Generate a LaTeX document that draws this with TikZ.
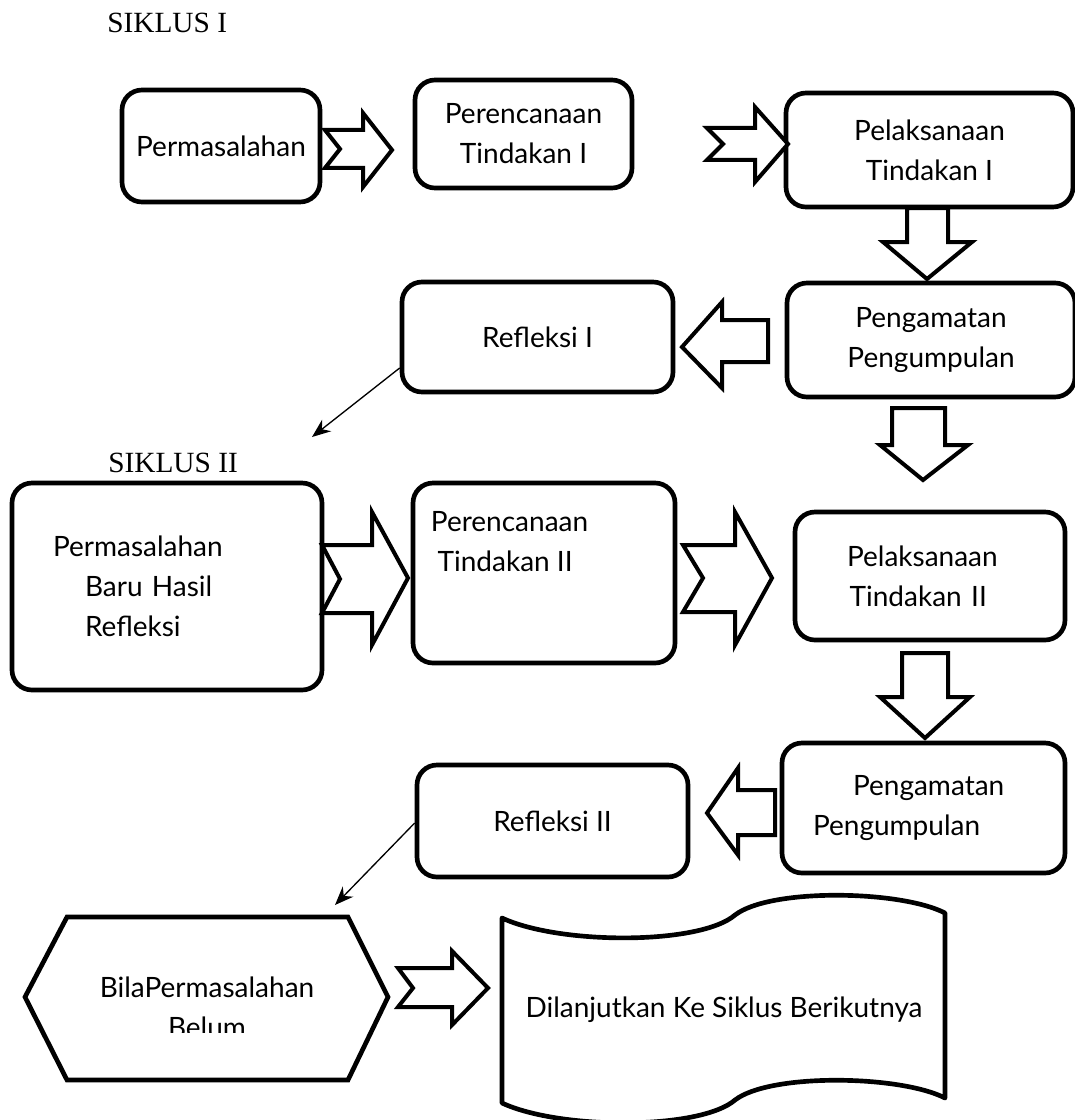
\documentclass[tikz,border=0pt]{standalone}
\usepackage{fontspec}
\setmainfont{Lato}
\newfontfamily\siklusfont{Liberation Serif}
\usetikzlibrary{arrows.meta,calc}

\tikzset{
  box/.style={draw, line width=3.5pt, rounded corners=15pt, align=center,
    font=\fontsize{21}{30}\selectfont},
  lbox/.style 2 args={box, align=left, inner xsep=#1, text width=#2},
  txt/.style={align=center, inner sep=0pt, font=\fontsize{21}{30}\selectfont},
  blockarrow/.style={draw, line width=3pt, fill=white, line join=miter},
  thinarrow/.style={-{Stealth[length=14pt,width=11pt]}, line width=1pt},
  siklus/.style={font=\siklusfont\fontsize{22}{26}\selectfont, inner sep=0pt, anchor=base west}
}

\begin{document}
\begin{tikzpicture}[x=0.75pt, y=-0.75pt]
    \useasboundingbox (0,0) rectangle (1074,1120);

    % siklus I
    \node[siklus] (judul1) at (107,33) {SIKLUS I};

    \node[box, minimum width=148.5pt, minimum height=84pt] (perm1) at (221,146) {Permasalahan};
    \node[box, minimum width=162.75pt, minimum height=81pt] (renc1) at (523.5,134) {Perencanaan\\Tindakan I};
    \node[box, minimum width=215.25pt, minimum height=85.5pt] (laks1) at (929.5,150) {Pelaksanaan\\Tindakan I};
    \node[box, minimum width=216pt, minimum height=85.5pt] (amat1) at (931,340) {Pengamatan\\Pengumpulan};
    \node[box, minimum width=203.25pt, minimum height=82.5pt] (refl1) at (537.5,337) {Refleksi I};

    \draw[blockarrow] (325,130) -- (363,130) -- (363,113) -- (392,150) -- (363,187) -- (363,168) -- (325,168) -- (340,149) -- cycle;
    \draw[blockarrow] (707,128) -- (755,128) -- (755,107) -- (788,144) -- (755,182) -- (755,160) -- (707,160) -- (723,144) -- cycle;
    \draw[blockarrow] (907,208) -- (948,208) -- (948,242) -- (972,242) -- (927,279) -- (883,242) -- (907,242) -- cycle;
    \draw[blockarrow] (768,320) -- (722,320) -- (722,302) -- (682,347) -- (722,388) -- (722,362) -- (768,362) -- cycle;
    \draw[blockarrow] (892,408) -- (945,408) -- (945,445) -- (968,445) -- (923,480) -- (880,445) -- (892,445) -- cycle;

    \coordinate (ke2) at (312,437);
    \draw[thinarrow] ($(refl1.west)+(0,31)$) -- (ke2);

    % siklus II
    \node[siklus] (judul2) at (108,472) {SIKLUS II};

    \node[lbox={30.75pt}{171pt}, minimum width=232.5pt, minimum height=155.25pt] (perm2) at (167,586.5)
        {Permasalahan\\\hspace*{24pt}Baru Hasil\\\hspace*{24pt}Refleksi};
    \node[box, minimum width=196.5pt, minimum height=135pt] (renc2) at (544,573) {};
    \node[txt, align=left, anchor=north west] (renc2txt) at ($(renc2.north west)+(20,30)$)
        {Perencanaan\\\hspace*{5pt}Tindakan II};
    \node[lbox={39pt}{124.5pt}, minimum width=202.5pt, minimum height=96pt] (laks2) at (930,576)
        {Pelaksanaan\\\hspace*{2pt}Tindakan II};
    \node[lbox={23.25pt}{165.75pt}, minimum width=212.25pt, minimum height=97.5pt] (amat2) at (923.5,808)
        {\hspace*{30pt}Pengamatan\\Pengumpulan};
    \node[box, minimum width=203.25pt, minimum height=84pt] (refl2) at (552.5,821) {Refleksi II};

    \draw[blockarrow] (322,545) -- (372,545) -- (372,512) -- (408,578) -- (372,645) -- (372,613) -- (322,613) -- (340,579) -- cycle;
    \draw[blockarrow] (683,545) -- (735,545) -- (735,512) -- (772,578) -- (735,645) -- (735,612) -- (683,612) -- (703,578) -- cycle;
    \draw[blockarrow] (902,653) -- (948,653) -- (948,697) -- (970,697) -- (925,738) -- (880,697) -- (902,697) -- cycle;
    \draw[blockarrow] (775,790) -- (738,790) -- (738,768) -- (707,813) -- (738,855) -- (738,835) -- (775,835) -- cycle;

    \coordinate (kebila) at (335,905);
    \draw[thinarrow] ($(refl2.west)+(0,2)$) -- (kebila);

    % akhir
    \draw[line width=3.5pt, line join=miter] (25,997) -- (67,917) -- (348,917) -- (388,997) -- (348,1080) -- (67,1080) -- cycle;
    \begin{scope}
        \clip (30,920) rectangle (385,1032);
        \node[txt] (bila) at (207,1007) {BilaPermasalahan\\Belum};
    \end{scope}

    \draw[blockarrow] (398,968) -- (452,968) -- (452,951) -- (488,988) -- (452,1025) -- (452,1007) -- (398,1007) -- (413,988) -- cycle;

    \draw[line width=3.5pt, line join=round] (502,918) .. controls (560,945) and (700,945) .. (735,915)
        .. controls (770,888) and (900,890) .. (945,913) -- (945,1098)
        .. controls (900,1075) and (770,1073) .. (735,1100)
        .. controls (700,1130) and (560,1130) .. (502,1103) -- cycle;
    \node[txt] (lanjut) at (724,1010) {Dilanjutkan Ke Siklus Berikutnya};

\end{tikzpicture}
\end{document}
